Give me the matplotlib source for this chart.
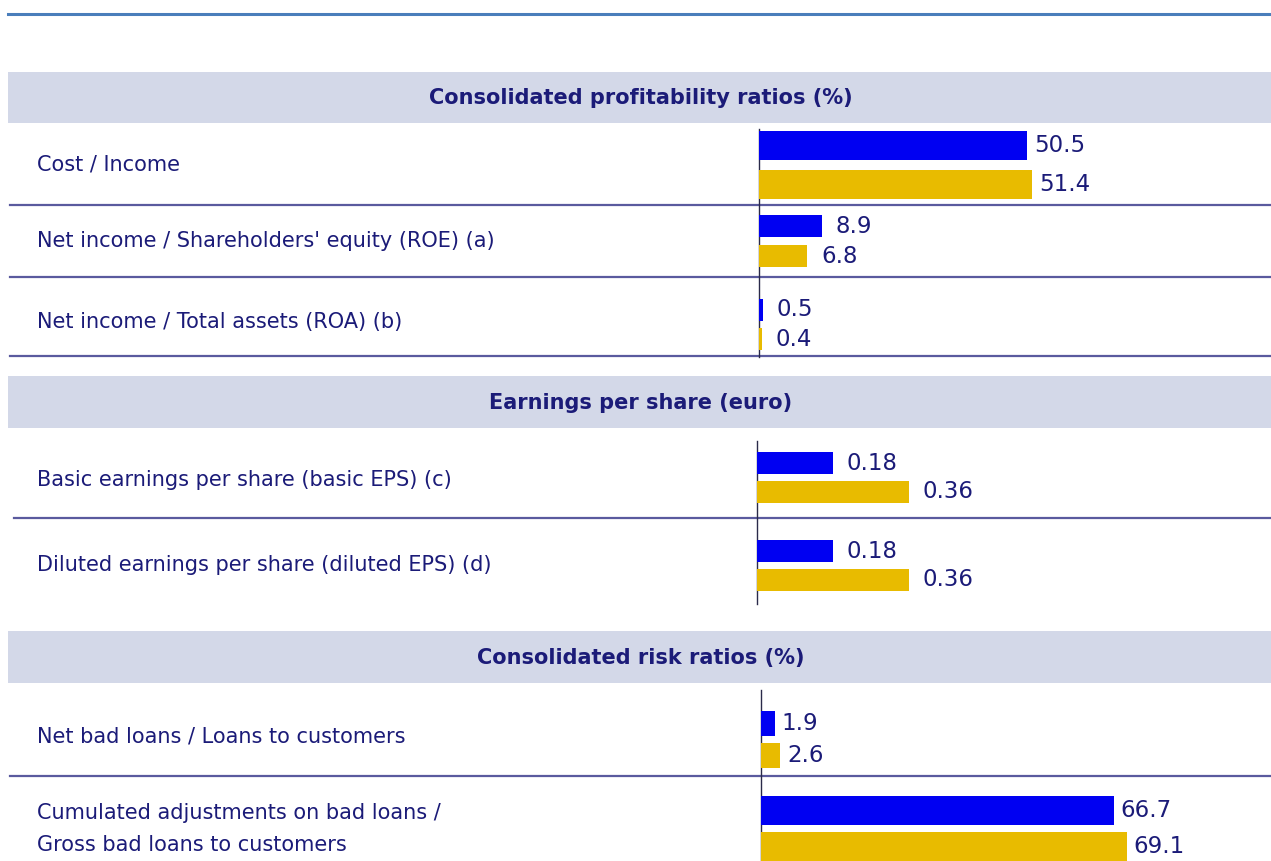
import matplotlib.pyplot as plt
from matplotlib.patches import Rectangle

# data
sections = ["Consolidated profitability ratios (%)",
            "Earnings per share (euro)",
            "Consolidated risk ratios (%)"]
row_labels = ["Cost / Income",
              "Net income / Shareholders' equity (ROE) (a)",
              "Net income / Total assets (ROA) (b)",
              "Basic earnings per share (basic EPS) (c)",
              "Diluted earnings per share (diluted EPS) (d)",
              "Net bad loans / Loans to customers",
              "Cumulated adjustments on bad loans /\nGross bad loans to customers"]
row_section = [0, 0, 0, 1, 1, 2, 2]
current = [50.5, 8.9, 0.5, 0.18, 0.18, 1.9, 66.7]
previous = [51.4, 6.8, 0.4, 0.36, 0.36, 2.6, 69.1]
decimals = [1, 1, 1, 2, 2, 1, 1]

# layout (pixels of the 1271x861 canvas)
W, H = 1271, 861
NAVY = "#1b1b78"
BLUE = "#0000f2"
GOLD = "#e8bb00"
BAND = "#d3d8e8"
SEP = "#5a5a9e"

band_y = [(72, 123), (376, 428), (631, 683)]
axis_x = [759, 757, 761]
axis_span = [(129, 357), (441, 604), (690, 861)]
sep_lines = [(205, 10), (277, 10), (356, 10), (518, 14), (776, 10)]
label_y = [165, 241, 322, 480, 565, 736, 829]
# bar area per row: (top px, bottom px), scale (px per unit), value label gap (pt)
row_box = [(126, 204), (211, 271), (295, 354), (449, 506), (537, 594), (707, 772), (792, 865)]
row_scale = [5.31, 7.07, 7.07, 421, 421, 7.35, 5.29]
bar_h = [0.74, 0.74, 0.75, 0.78, 0.78, 0.76, 0.8]
gap = [5, 10, 10, 10, 10, 5, 5]

fig = plt.figure(figsize=(W / 100, H / 100), dpi=100)
bg = fig.add_axes([0, 0, 1, 1])
bg.set_xlim(0, W)
bg.set_ylim(H, 0)
bg.axis("off")

bg.plot([8, W], [14, 14], color="#4a7ebb", lw=2.2)

for i, (y0, y1) in enumerate(band_y):
    bg.add_patch(Rectangle((8, y0), W - 8, y1 - y0, color=BAND, lw=0))
    bg.text(641, (y0 + y1) / 2 + 1, sections[i], ha="center", va="center",
            fontsize=15, fontweight="bold", color=NAVY)

for y, x0 in sep_lines:
    bg.plot([x0, W], [y, y], color=SEP, lw=1.6)

for i, x in enumerate(axis_x):
    bg.plot([x, x], axis_span[i], color="#2a2a4a", lw=1)

for i, lab in enumerate(row_labels):
    bg.text(37, label_y[i], lab, ha="left", va="center", fontsize=15,
            color=NAVY, linespacing=1.75)

for i in range(len(row_labels)):
    top, bot = row_box[i]
    left = axis_x[row_section[i]]
    ax = fig.add_axes([left / W, 1 - bot / H, (W - left) / W, (bot - top) / H])
    ax.set_xlim(0, (W - left) / row_scale[i])
    ax.set_ylim(1.5, -0.5)
    ax.axis("off")
    vals = [current[i], previous[i]]
    ax.barh([0, 1], vals, height=bar_h[i], color=[BLUE, GOLD])
    for j, v in enumerate(vals):
        ax.annotate(f"{v:.{decimals[i]}f}", (v, j), xytext=(gap[i], 0),
                    textcoords="offset points", ha="left", va="center",
                    fontsize=16.5, color=NAVY, annotation_clip=False)

fig.savefig("out.png", dpi=100)
